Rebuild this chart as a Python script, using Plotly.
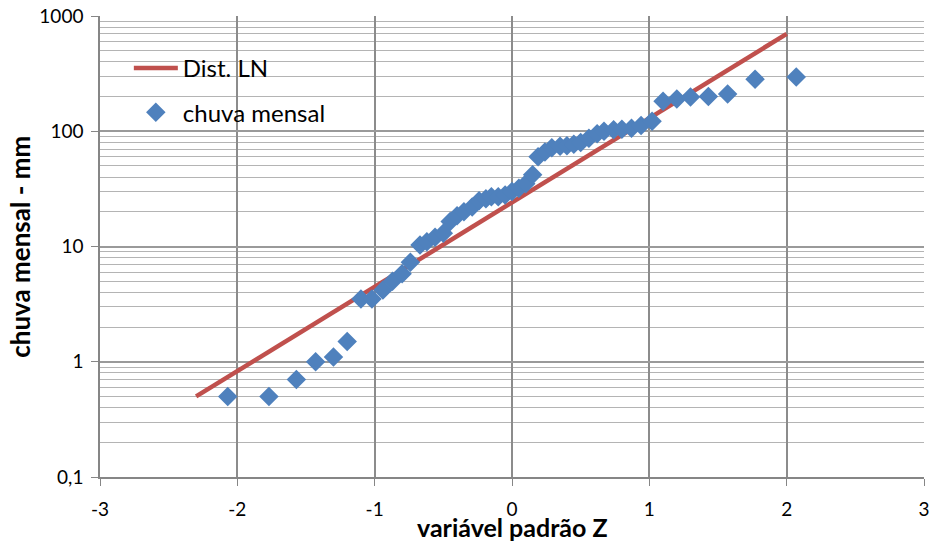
import plotly.graph_objects as go

# --- data ---
z_obs = [-2.07, -1.77, -1.57, -1.43, -1.30, -1.20, -1.10, -1.02, -0.94, -0.87,
         -0.80, -0.74, -0.67, -0.62, -0.56, -0.50, -0.45, -0.40, -0.35, -0.29,
         -0.24, -0.19, -0.15, -0.10, -0.05, 0.00, 0.05, 0.10, 0.15, 0.19,
         0.24, 0.29, 0.35, 0.40, 0.45, 0.50, 0.56, 0.62, 0.67, 0.74,
         0.80, 0.87, 0.94, 1.02, 1.10, 1.20, 1.30, 1.43, 1.57, 1.77, 2.07]
chuva = [0.5, 0.5, 0.7, 1.0, 1.1, 1.5, 3.5, 3.5, 4.2, 5.0,
         5.8, 7.3, 10.3, 11.0, 12.0, 13.0, 16.5, 18.5, 20.0, 22.0,
         25.0, 26.0, 27.0, 27.0, 28.0, 30.0, 32.0, 35.0, 42.0, 60.0,
         66.0, 72.0, 74.0, 75.0, 77.0, 80.0, 87.0, 95.0, 100.0, 103.0,
         104.0, 106.0, 112.0, 122.0, 182.0, 190.0, 198.0, 200.0, 211.0, 283.0, 295.0]
z_line = [-2.3, 2.0]
ln_line = [0.5, 700.0]

y_tickvals = [0.1, 1, 10, 100, 1000]
y_ticktext = ["0,1", "1", "10", "100", "1000"]
x_tickvals = [-3, -2, -1, 0, 1, 2, 3]
x_ticktext = ["-3", "-2", "-1", "0", "1", "2", "3"]

FONT = "Lato"
minor_vals = [m * 10 ** e for e in range(-1, 3) for m in range(2, 10)]

fig = go.Figure()
fig.add_trace(go.Scatter(
    x=z_line, y=ln_line, mode="lines", name="Dist. LN", legendgroup="a",
    line=dict(color="#C0504D", width=4.5)))
fig.add_trace(go.Scatter(
    x=z_obs, y=chuva, mode="markers", name="chuva mensal", legendgroup="b",
    marker=dict(symbol="diamond", size=15, color="#4F81BD", line=dict(width=0))))

fig.update_layout(
    width=930, height=541,
    margin=dict(l=100, r=6, t=16, b=64, autoexpand=False),
    paper_bgcolor="white", plot_bgcolor="white",
    font=dict(family=FONT, size=19, color="black"),
    separators=", ",
    showlegend=True,
    legend=dict(x=0.035, y=0.935, xanchor="left", yanchor="top",
                bgcolor="rgba(0,0,0,0)", font=dict(family=FONT, size=24),
                traceorder="grouped", tracegroupgap=10, itemwidth=44),
    xaxis=dict(range=[-3, 3], tickvals=x_tickvals, ticktext=x_ticktext,
               ticks="outside", ticklen=7, automargin=False,
               tickcolor="#868686", showline=True, linecolor="#868686", linewidth=1.5,
               showgrid=True, gridcolor="#8c8c8c", gridwidth=1.5, zeroline=False,
               ticklabelstandoff=7, tickfont=dict(size=19)),
    yaxis=dict(type="log", range=[-1, 3], tickvals=y_tickvals, ticktext=y_ticktext,
               ticks="outside", ticklen=7, tickcolor="#868686", automargin=False,
               showline=True, linecolor="#868686", linewidth=1.5,
               showgrid=True, gridcolor="#9a9a9a", gridwidth=1.5, zeroline=False,
               ticklabelstandoff=4, tickfont=dict(size=19),
               minor=dict(tickvals=minor_vals, showgrid=True, gridcolor="#b4b4b4",
                          gridwidth=1.2, ticks="")),
    annotations=[
        dict(text="<b>variável padrão Z</b>", xref="paper", yref="paper",
             x=0.5, y=-0.108, xanchor="center", yanchor="middle", showarrow=False,
             font=dict(family=FONT, size=25)),
        dict(text="<b>chuva mensal - mm</b>", xref="paper", yref="paper",
             x=-0.098, y=0.5, xanchor="center", yanchor="middle", showarrow=False,
             textangle=-90, font=dict(family=FONT, size=26)),
    ],
)

fig.write_html("out.html", config={"displayModeBar": False},
               post_script="document.body.style.margin='0px';")
